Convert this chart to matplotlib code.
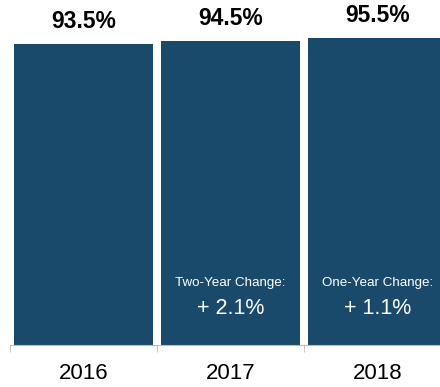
import matplotlib
matplotlib.use('Agg')
import matplotlib.pyplot as plt

plt.rcParams['font.family'] = ['Liberation Sans', 'DejaVu Sans']

ANNEES  = ['2016', '2017', '2018']
TAUX    = [93.5, 94.5, 95.5]
CHANGES = [None, ('Two-Year Change:', '+ 2.1%'), ('One-Year Change:', '+ 1.1%')]

BLEU = '#1a4a6b'

fig = plt.figure(figsize=(4.4, 3.87), dpi=100)
# axe volontairement plus large que la figure : la dernière barre est coupée à droite
ax = fig.add_axes([10 / 440, 42 / 387, 441 / 440, 345 / 387])

x = list(range(len(ANNEES)))
bars = ax.bar(x, TAUX, width=0.94, color=BLEU)

for xi, v in zip(x, TAUX):
    ax.text(xi, v + 5, f'{v:.1f}%', ha='center', va='baseline',
            fontsize=16.5, fontweight='bold', color='black')

for xi, ch in zip(x, CHANGES):
    if ch is None:
        continue
    titre, val = ch
    ax.text(xi, 19.3, titre, ha='center', va='center', fontsize=9.6, color='white')
    ax.text(xi, 11.2, val, ha='center', va='center', fontsize=15.5, color='white')

ax.set_xlim(-0.5, 2.5)
ax.set_ylim(0, 107.3)

for s in ['top', 'right', 'left']:
    ax.spines[s].set_visible(False)
ax.spines['bottom'].set_color('#bbbbbb')
ax.set_yticks([])

ax.set_xticks(x)
ax.set_xticklabels(ANNEES, fontsize=16)
ax.tick_params(axis='x', which='major', length=0, pad=13)
ax.set_xticks([-0.5, 0.5, 1.5, 2.5], minor=True)
ax.tick_params(axis='x', which='minor', length=5, color='#bbbbbb')

fig.savefig('out.png', dpi=100)
